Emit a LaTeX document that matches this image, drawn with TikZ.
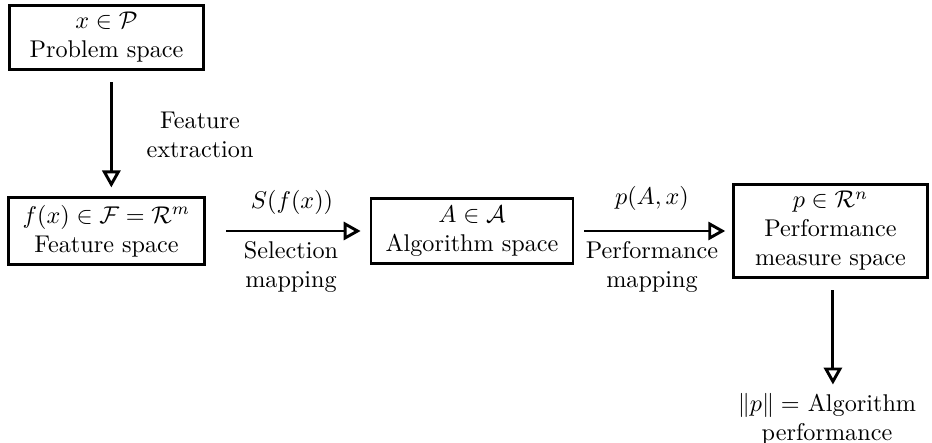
\documentclass[tikz,border=0pt]{standalone}
\usepackage{amsmath}
\usetikzlibrary{arrows.meta}

\begin{document}
\begin{tikzpicture}[x=0.4132pt, y=-0.4132pt,
        space/.style={draw, line width=1.2pt, align=center, minimum width=80pt, inner xsep=6pt, inner ysep=3pt},
        map/.style={line width=1.2pt, -{Triangle[open, length=7pt, width=7.5pt]}},
        lbl/.style={align=center}]
        % Frame (pixel-like units, y downwards)
        \useasboundingbox (0,0) rectangle (932,443);
        
        % Spaces
        \node[space] (prob) at (106.5,37.5) {$x \in \mathcal{P}$\\Problem space};
        \node[space] (feat) at (106.5,231) {$f(x) \in \mathcal{F} = \mathcal{R}^m$\\Feature space};
        \node[space] (alg) at (472,231) {$A \in \mathcal{A}$\\Algorithm space};
        \node[space] (perf) at (830.5,231) {$p \in \mathcal{R}^n$\\Performance\\measure space};
        
        % Final result (no box)
        \node[lbl] (perfval) at (827,419) {$\|p\| =$ Algorithm\\performance};
        
        % Mappings
        \draw[map, shorten <=4.5pt, shorten >=3.7pt] ([xshift=2pt]prob.south) -- ([xshift=2pt]feat.north);
        \draw[map, shorten <=8.3pt, shorten >=3.7pt] (feat) -- (alg);
        \draw[map, shorten <=4pt, shorten >=2.9pt] (alg) -- (perf);
        \draw[map, shorten <=4.5pt] ([xshift=1pt]perf.south) -- ([xshift=1pt]perf.south |- perfval.north);
        
        % Labels of the mappings
        \node[lbl] (extr) at (200,135) {Feature\\extraction};
        \node (sel) at (292,202) {$S(f(x))$};
        \node[lbl] (selmap) at (291,267) {Selection\\mapping};
        \node (pax) at (652,198) {$p(A,x)$};
        \node[lbl] (perfmap) at (652,267) {Performance\\mapping};
        
\end{tikzpicture}
\end{document}
